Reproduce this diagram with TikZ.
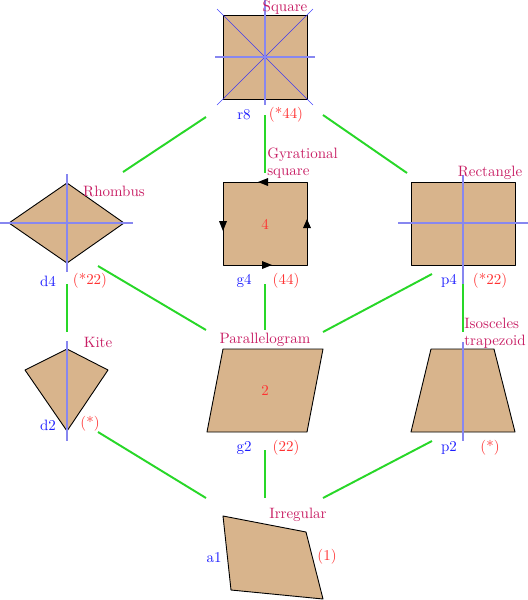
\documentclass[tikz,border=0pt]{standalone}
\usetikzlibrary{arrows.meta}
\definecolor{quadfillc}{RGB}{216,180,140}
\definecolor{lblcol}{RGB}{200,30,100}
\definecolor{grn}{RGB}{40,215,40}
\definecolor{symc}{RGB}{255,50,50}
\definecolor{orbc}{RGB}{30,30,255}
\definecolor{axisc}{RGB}{135,135,240}
\begin{document}
\begin{tikzpicture}[x=0.6667pt,y=-0.6667pt,
  quad/.style={fill=quadfillc,draw=black,line width=0.6pt,line join=round},
  symaxis/.style={draw=axisc,line width=0.75pt},
  diagaxis/.style={draw=blue!85,draw opacity=0.85,line width=0.45pt},
  edgeline/.style={draw=grn,line width=1.3pt},
  namelbl/.style={text=lblcol,inner sep=0pt},
  orblbl/.style={text=orbc,inner sep=0pt},
  symlbl/.style={text=symc,inner sep=0pt},
  gyrtip/.style={fill=black}]
\useasboundingbox (0,0) rectangle (528,600);

% ---------- Square ----------
\draw[quad] (223,15) rectangle (307,99);
\draw[diagaxis] (217,9) -- (313,105);
\draw[diagaxis] (313,9) -- (217,105);
\draw[symaxis] (215,57) -- (315,57);
\draw[symaxis] (265,0) -- (265,105);
\node[namelbl] (sqname) at (285,8) {Square};
\node[orblbl] (sqorb) at (244,115) {r8};
\node[symlbl] (sqsym) at (286,115) {(*44)};

% ---------- Rhombus ----------
\draw[quad] (9,223) -- (67,183) -- (124,223) -- (67,263) -- cycle;
\draw[symaxis] (0,223) -- (133,223);
\draw[symaxis] (67,174) -- (67,272);
\node[namelbl] (rhname) at (114,191) {Rhombus};
\node[orblbl] (rhorb) at (48,281) {d4};
\node[symlbl] (rhsym) at (90,281) {(*22)};

% ---------- Gyrational square ----------
\draw[quad] (223,182) rectangle (307,265);
\fill[gyrtip] (258,182) -- (268,178) -- (268,186) -- cycle;
\fill[gyrtip] (223,231) -- (219,221) -- (227,221) -- cycle;
\fill[gyrtip] (272,265) -- (262,261) -- (262,269) -- cycle;
\fill[gyrtip] (307,219) -- (303,228) -- (311,228) -- cycle;
\node[symlbl] (gyrnum) at (265,224) {4};
\node[namelbl,anchor=west] (gyrname1) at (267,155) {Gyrational};
\node[namelbl,anchor=west] (gyrname2) at (267,174) {square};
\node[orblbl] (gyrorb) at (244,281) {g4};
\node[symlbl] (gyrsym) at (286,281) {(44)};

% ---------- Rectangle ----------
\draw[quad] (411,182) rectangle (515,265);
\draw[symaxis] (398,223) -- (528,223);
\draw[symaxis] (463,175) -- (463,286);
\node[namelbl] (rename) at (490,173) {Rectangle};
\node[orblbl] (reorb) at (449,281) {p4};
\node[symlbl] (resym) at (490,281) {(*22)};

% ---------- Kite ----------
\draw[quad] (67,349) -- (108,370) -- (67,431) -- (25,370) -- cycle;
\draw[symaxis] (67,341) -- (67,441);
\node[namelbl] (kiname) at (98,342) {Kite};
\node[orblbl] (kiorb) at (48,425) {d2};
\node[symlbl] (kisym) at (90,424) {(*)};

% ---------- Parallelogram ----------
\draw[quad] (223,349) -- (323,349) -- (307,432) -- (207,432) -- cycle;
\node[symlbl] (panum) at (265,390) {2};
\node[namelbl] (paname) at (265,340) {Parallelogram};
\node[orblbl] (paorb) at (244,448) {g2};
\node[symlbl] (pasym) at (286,448) {(22)};

% ---------- Isosceles trapezoid ----------
\draw[quad] (431,349) -- (494,349) -- (515,432) -- (411,432) -- cycle;
\draw[symaxis] (463,342) -- (463,441);
\node[namelbl,anchor=west] (trname1) at (464,323) {Isosceles};
\node[namelbl,anchor=west] (trname2) at (464,342) {trapezoid};
\node[orblbl] (trorb) at (449,448) {p2};
\node[symlbl] (trsym) at (490,448) {(*)};

% ---------- Irregular ----------
\draw[quad] (223,516) -- (306,532) -- (323,599) -- (231,590) -- cycle;
\node[namelbl] (irname) at (298,515) {Irregular};
\node[orblbl] (irorb) at (214,558) {a1};
\node[symlbl] (irsym) at (327,557) {(1)};

% ---------- connector end points ----------
\coordinate (sqL) at (206,117);
\coordinate (sqB) at (265,115);
\coordinate (sqR) at (323,115);
\coordinate (rhT) at (123,172);
\coordinate (rhB) at (67,284);
\coordinate (rhR) at (98,266);
\coordinate (gyT) at (265,173);
\coordinate (gyB) at (265,284);
\coordinate (reT) at (407,173);
\coordinate (reL) at (432,274);
\coordinate (reB) at (463,284);
\coordinate (kiT) at (67,332);
\coordinate (kiB) at (98,432);
\coordinate (paL) at (206,330);
\coordinate (paT) at (265,330);
\coordinate (paR) at (323,332);
\coordinate (paB) at (265,450);
\coordinate (trT) at (463,332);
\coordinate (trB) at (432,441);
\coordinate (irL) at (206,498);
\coordinate (irT) at (265,498);
\coordinate (irR) at (323,498);

% ---------- connectors ----------
\draw[edgeline] (sqL) -- (rhT);
\draw[edgeline] (sqB) -- (gyT);
\draw[edgeline] (sqR) -- (reT);
\draw[edgeline] (rhB) -- (kiT);
\draw[edgeline] (rhR) -- (paL);
\draw[edgeline] (gyB) -- (paT);
\draw[edgeline] (reL) -- (paR);
\draw[edgeline] (reB) -- (trT);
\draw[edgeline] (kiB) -- (irL);
\draw[edgeline] (paB) -- (irT);
\draw[edgeline] (trB) -- (irR);
\end{tikzpicture}
\end{document}
